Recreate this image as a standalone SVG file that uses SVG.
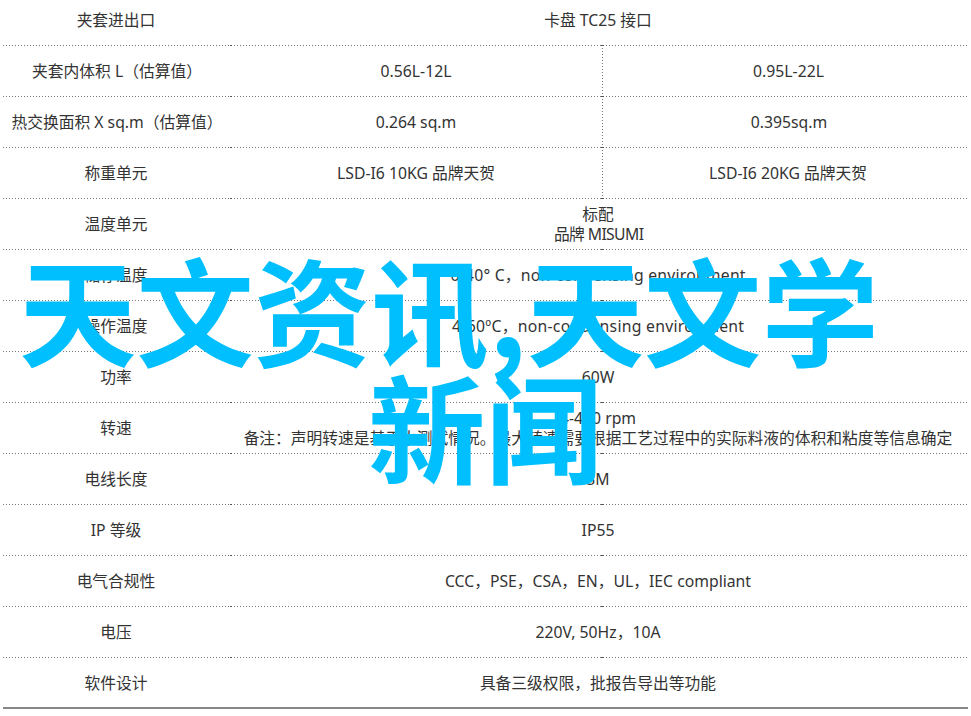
<svg xmlns="http://www.w3.org/2000/svg" width="971" height="716" viewBox="0 0 971 716">
<style>
text{font-family:"Noto Sans","Noto Sans CJK SC",sans-serif;font-size:15.75px;fill:#333;text-anchor:middle}
.g{stroke:#777;stroke-width:1;stroke-dasharray:1 2;fill:none}
.t{stroke:#555;stroke-width:1;fill:none}
.b{font-family:"Noto Sans CJK SC",sans-serif;font-size:117.4px;font-weight:700;fill:#00bfff;text-anchor:start}
</style>
<rect width="971" height="716" fill="#fff"/>
<g id="grid">
<path class="g" d="M3 45.5H968M3 96.5H968M3 147.5H968M3 198.5H968M3 249.5H968M3 300.5H968M3 351.5H968M3 402.5H968M3 453.5H968M3 504.5H968M3 555.5H968M3 606.5H968M3 657.5H968M602.5 45V198"/>
<path class="t" d="M230 45.5h2M230 96.5h2M230 147.5h2M230 198.5h2M230 249.5h2M230 300.5h2M230 351.5h2M230 402.5h2M230 453.5h2M230 504.5h2M230 555.5h2M230 606.5h2M230 657.5h2M601 45.5h3M601 96.5h3M601 147.5h3M601 198.5h3M601 249.5h3M601 300.5h3M601 351.5h3M601 402.5h3M601 453.5h3M601 504.5h3M601 555.5h3M601 606.5h3M601 657.5h3"/>
<path d="M3 708H968" stroke="#888" stroke-width="2" fill="none"/>
</g>
<g id="col1">
<text x="116" y="26">夹套进出口</text>
<text x="117" y="77">夹套内体积 L（估算值）</text>
<text x="117" y="128">热交换面积 X sq.m（估算值）</text>
<text x="116" y="179">称重单元</text>
<text x="116" y="230">温度单元</text>
<text x="116" y="281">储存温度</text>
<text x="116" y="332">操作温度</text>
<text x="116" y="383">功率</text>
<text x="116" y="434">转速</text>
<text x="116" y="485">电线长度</text>
<text x="116" y="536">IP 等级</text>
<text x="116" y="587">电气合规性</text>
<text x="116" y="638">电压</text>
<text x="116" y="689">软件设计</text>
</g>
<g id="col2">
<text x="598" y="26">卡盘 TC25 接口</text>
<text x="416" y="77">0.56L-12L</text>
<text x="788.5" y="77">0.95L-22L</text>
<text x="416" y="128">0.264 sq.m</text>
<text x="789" y="128">0.395sq.m</text>
<text x="416" y="179">LSD-I6 10KG 品牌天贺</text>
<text x="788" y="179">LSD-I6 20KG 品牌天贺</text>
<text x="598" y="220">标配</text>
<text x="599" y="240" textLength="90">品牌 MISUMI</text>
<text x="598" y="281" textLength="295">0-40° C，non-condensing environment</text>
<text x="598" y="332" textLength="292">4-60ºC，non-condensing environment</text>
<text x="598" y="383">60W</text>
<text x="598" y="424">4-400 rpm</text>
<text x="598" y="444">备注：声明转速是基于水测试情况。最大转速需要根据工艺过程中的实际料液的体积和粘度等信息确定</text>
<text x="598" y="485">3M</text>
<text x="598" y="536">IP55</text>
<text x="598" y="587">CCC，PSE，CSA，EN，UL，IEC compliant</text>
<text x="598" y="638">220V, 50Hz，10A</text>
<text x="598" y="689">具备三级权限，批报告导出等功能</text>
</g>
<g id="overlay">
<text class="b" x="19" y="358">天文资讯,天文学</text>
<text class="b" x="368" y="475">新闻</text>
</g>
</svg>
